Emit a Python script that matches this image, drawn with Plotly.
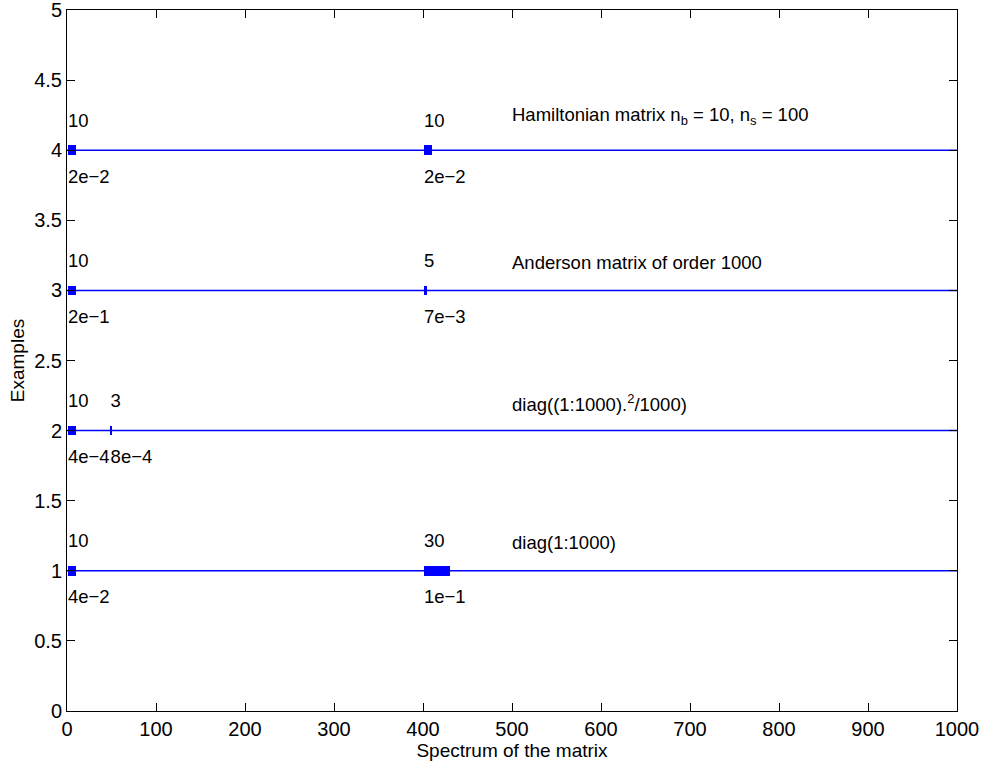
import plotly.graph_objects as go

# Data
examples = [1, 2, 3, 4]
descriptions = [
    "diag(1:1000)",
    "diag((1:1000).<sup>2</sup>/1000)",
    "Anderson matrix of order 1000",
    "Hamiltonian matrix n<sub>b</sub> = 10, n<sub>s</sub> = 100",
]
# windows: (example, start index, end index, count label, value label)
win_example = [1, 1, 2, 2, 3, 3, 4, 4]
win_start = [1, 401, 1, 49, 1, 401, 1, 401]
win_end = [10, 430, 10, 51, 10, 405, 10, 410]
win_count = ["10", "30", "10", "3", "10", "5", "10", "10"]
win_value = ["4e\u22122", "1e\u22121", "4e\u22124", "8e\u22124", "2e\u22121", "7e\u22123", "2e\u22122", "2e\u22122"]
n_max = 1000
label_offset = 0.2
desc_x = 500

BLUE = "#0000ff"
FONT = "Liberation Sans, Arial, sans-serif"
TXT = 18.5

fig = go.Figure()

# horizontal spectrum lines
for e in examples:
    fig.add_trace(go.Scatter(x=[0, n_max], y=[e, e], mode="lines",
                             line=dict(color=BLUE, width=1.5), showlegend=False, hoverinfo="skip"))

# window bars
fig.add_trace(go.Bar(orientation="h", y=win_example, base=win_start,
                     x=[b - a for a, b in zip(win_start, win_end)],
                     width=0.068, marker=dict(color=BLUE, line=dict(width=0)),
                     showlegend=False, hoverinfo="skip"))

# count labels above
fig.add_trace(go.Scatter(x=win_start, y=[e + label_offset for e in win_example], mode="text",
                         text=win_count, textposition="middle right",
                         textfont=dict(family=FONT, size=TXT, color="black"),
                         showlegend=False, hoverinfo="skip", cliponaxis=False))
# value labels below
fig.add_trace(go.Scatter(x=win_start, y=[e - label_offset for e in win_example], mode="text",
                         text=win_value, textposition="middle right",
                         textfont=dict(family=FONT, size=TXT, color="black"),
                         showlegend=False, hoverinfo="skip", cliponaxis=False))
# descriptions (text with subscripts is centred on its full box, so main line sits higher)
for e, d in zip(examples, descriptions):
    fig.add_annotation(x=desc_x, y=e + label_offset, text=d, showarrow=False,
                       xanchor="left", yanchor="middle", xshift=-2,
                       yshift=6 if "<sub>" in d else 0,
                       font=dict(family=FONT, size=TXT, color="black"))

axis_common = dict(showline=True, linecolor="black", linewidth=1, mirror="allticks",
                   ticks="inside", ticklen=8, tickcolor="black", tickwidth=1,
                   showgrid=False, zeroline=False, automargin=False,
                   ticklabeloverflow="allow",
                   tickfont=dict(family=FONT, size=20, color="black"))

fig.update_layout(
    width=983, height=769,
    margin=dict(l=67, r=26, t=10, b=58),
    paper_bgcolor="white", plot_bgcolor="white",
    bargap=0,
    xaxis=dict(range=[0, n_max], tickvals=list(range(0, 1001, 100)),
               title=dict(text="Spectrum of the matrix", font=dict(family=FONT, size=19, color="black"), standoff=2),
               **axis_common),
    yaxis=dict(range=[0, 5], tickvals=[0, 0.5, 1, 1.5, 2, 2.5, 3, 3.5, 4, 4.5, 5],
               ticktext=["0", "0.5", "1", "1.5", "2", "2.5", "3", "3.5", "4", "4.5", "5"],
               title=dict(text="Examples", font=dict(family=FONT, size=19, color="black"), standoff=4),
               **axis_common),
)

fig.write_html("out.html")
